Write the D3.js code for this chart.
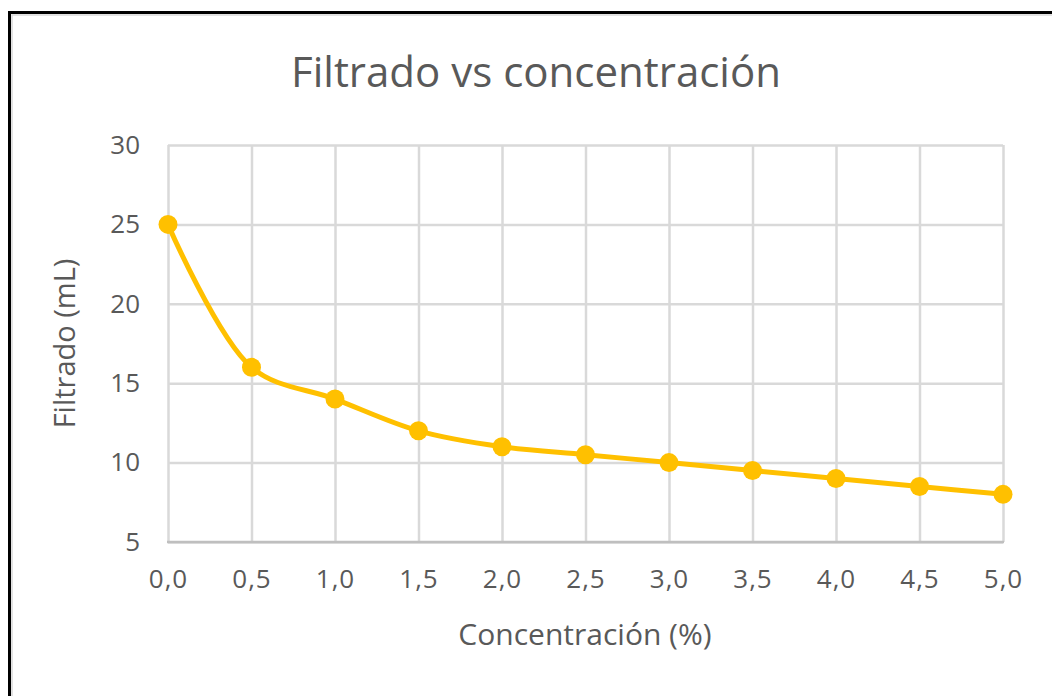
<!DOCTYPE html>
<html><head><meta charset="utf-8">
<script src="https://cdn.jsdelivr.net/npm/d3@7/dist/d3.min.js"></script>
<style>body{margin:0;background:#fff;}svg{display:block;}</style>
</head><body>
<svg id="c" width="1052" height="696"></svg>
<script>
const concentration = [0, 0.5, 1.0, 1.5, 2.0, 2.5, 3.0, 3.5, 4.0, 4.5, 5.0];
const filtrado = [25, 16, 14, 12, 11, 10.5, 10, 9.5, 9, 8.5, 8];
const xTicks = [0, 0.5, 1, 1.5, 2, 2.5, 3, 3.5, 4, 4.5, 5];
const yTicks = [5, 10, 15, 20, 25, 30];
const title = "Filtrado vs concentración";
const xTitle = "Concentración (%)";
const yTitle = "Filtrado (mL)";

const svg = d3.select("#c");
const font = "'Open Sans', 'Noto Sans', sans-serif";
const textColor = "#595959";
const L = 168, R = 1003, T = 145, B = 542;

// outer frame
svg.append("rect").attr("x", 9.5).attr("y", 12.5).attr("width", 1060).attr("height", 700)
  .attr("fill", "none").attr("stroke", "#000").attr("stroke-width", 3);
svg.append("rect").attr("x", 12).attr("y", 15).attr("width", 1060).attr("height", 700)
  .attr("fill", "none").attr("stroke", "#d9d9d9").attr("stroke-width", 1.5);

const x = d3.scaleLinear().domain([0, 5]).range([L, R]);
const y = d3.scaleLinear().domain([5, 30]).range([B, T]);

// gridlines
const gx = svg.append("g").attr("transform", `translate(0,${B})`)
  .call(d3.axisBottom(x).tickValues(xTicks).tickSize(-(B - T)).tickFormat(""));
gx.selectAll("line").attr("stroke", "#d9d9d9").attr("stroke-width", 2.5);
gx.select(".domain").remove();
const gy = svg.append("g").attr("transform", `translate(${L},0)`)
  .call(d3.axisLeft(y).tickValues(yTicks).tickSize(-(R - L)).tickFormat(""));
gy.selectAll("line").attr("stroke", "#d9d9d9").attr("stroke-width", 2.5);
gy.select(".domain").remove();

// bottom axis line
svg.append("line").attr("x1", L - 1).attr("x2", R + 1).attr("y1", B).attr("y2", B)
  .attr("stroke", "#bfbfbf").attr("stroke-width", 2.5);

// tick labels
const fmt = d => d3.format(".1f")(d).replace(".", ",");
const xl = svg.append("g").attr("transform", `translate(0,${B})`)
  .call(d3.axisBottom(x).tickValues(xTicks).tickSize(0).tickPadding(28).tickFormat(fmt));
xl.select(".domain").remove();
xl.selectAll("text").attr("font-family", font).attr("font-size", 26).attr("fill", textColor)
  .attr("letter-spacing", 1);
const yl = svg.append("g").attr("transform", `translate(${L},0)`)
  .call(d3.axisLeft(y).tickValues(yTicks).tickSize(0).tickPadding(28).tickFormat(d3.format("d")));
yl.select(".domain").remove();
yl.selectAll("text").attr("font-family", font).attr("font-size", 26).attr("fill", textColor);

// titles
svg.append("text").attr("x", 536).attr("y", 87).attr("text-anchor", "middle")
  .attr("font-family", font).attr("font-size", 42).attr("fill", textColor).text(title);
svg.append("text").attr("x", 585).attr("y", 645).attr("text-anchor", "middle")
  .attr("font-family", font).attr("font-size", 30).attr("fill", textColor).text(xTitle);
svg.append("text").attr("transform", `translate(75,${(T + B) / 2}) rotate(-90)`).attr("text-anchor", "middle")
  .attr("font-family", font).attr("font-size", 29).attr("fill", textColor).text(yTitle);

// line
const data = concentration.map((c, i) => ({c, v: filtrado[i]}));
svg.append("path").datum(data)
  .attr("d", d3.line().x(d => x(d.c)).y(d => y(d.v)).curve(d3.curveCatmullRom.alpha(0.5)))
  .attr("fill", "none").attr("stroke", "#FFC000").attr("stroke-width", 5).attr("stroke-linejoin", "round");
svg.append("g").selectAll("circle").data(data).join("circle")
  .attr("cx", d => x(d.c)).attr("cy", d => y(d.v)).attr("r", 9.5).attr("fill", "#FFC000");
</script>
</body></html>
